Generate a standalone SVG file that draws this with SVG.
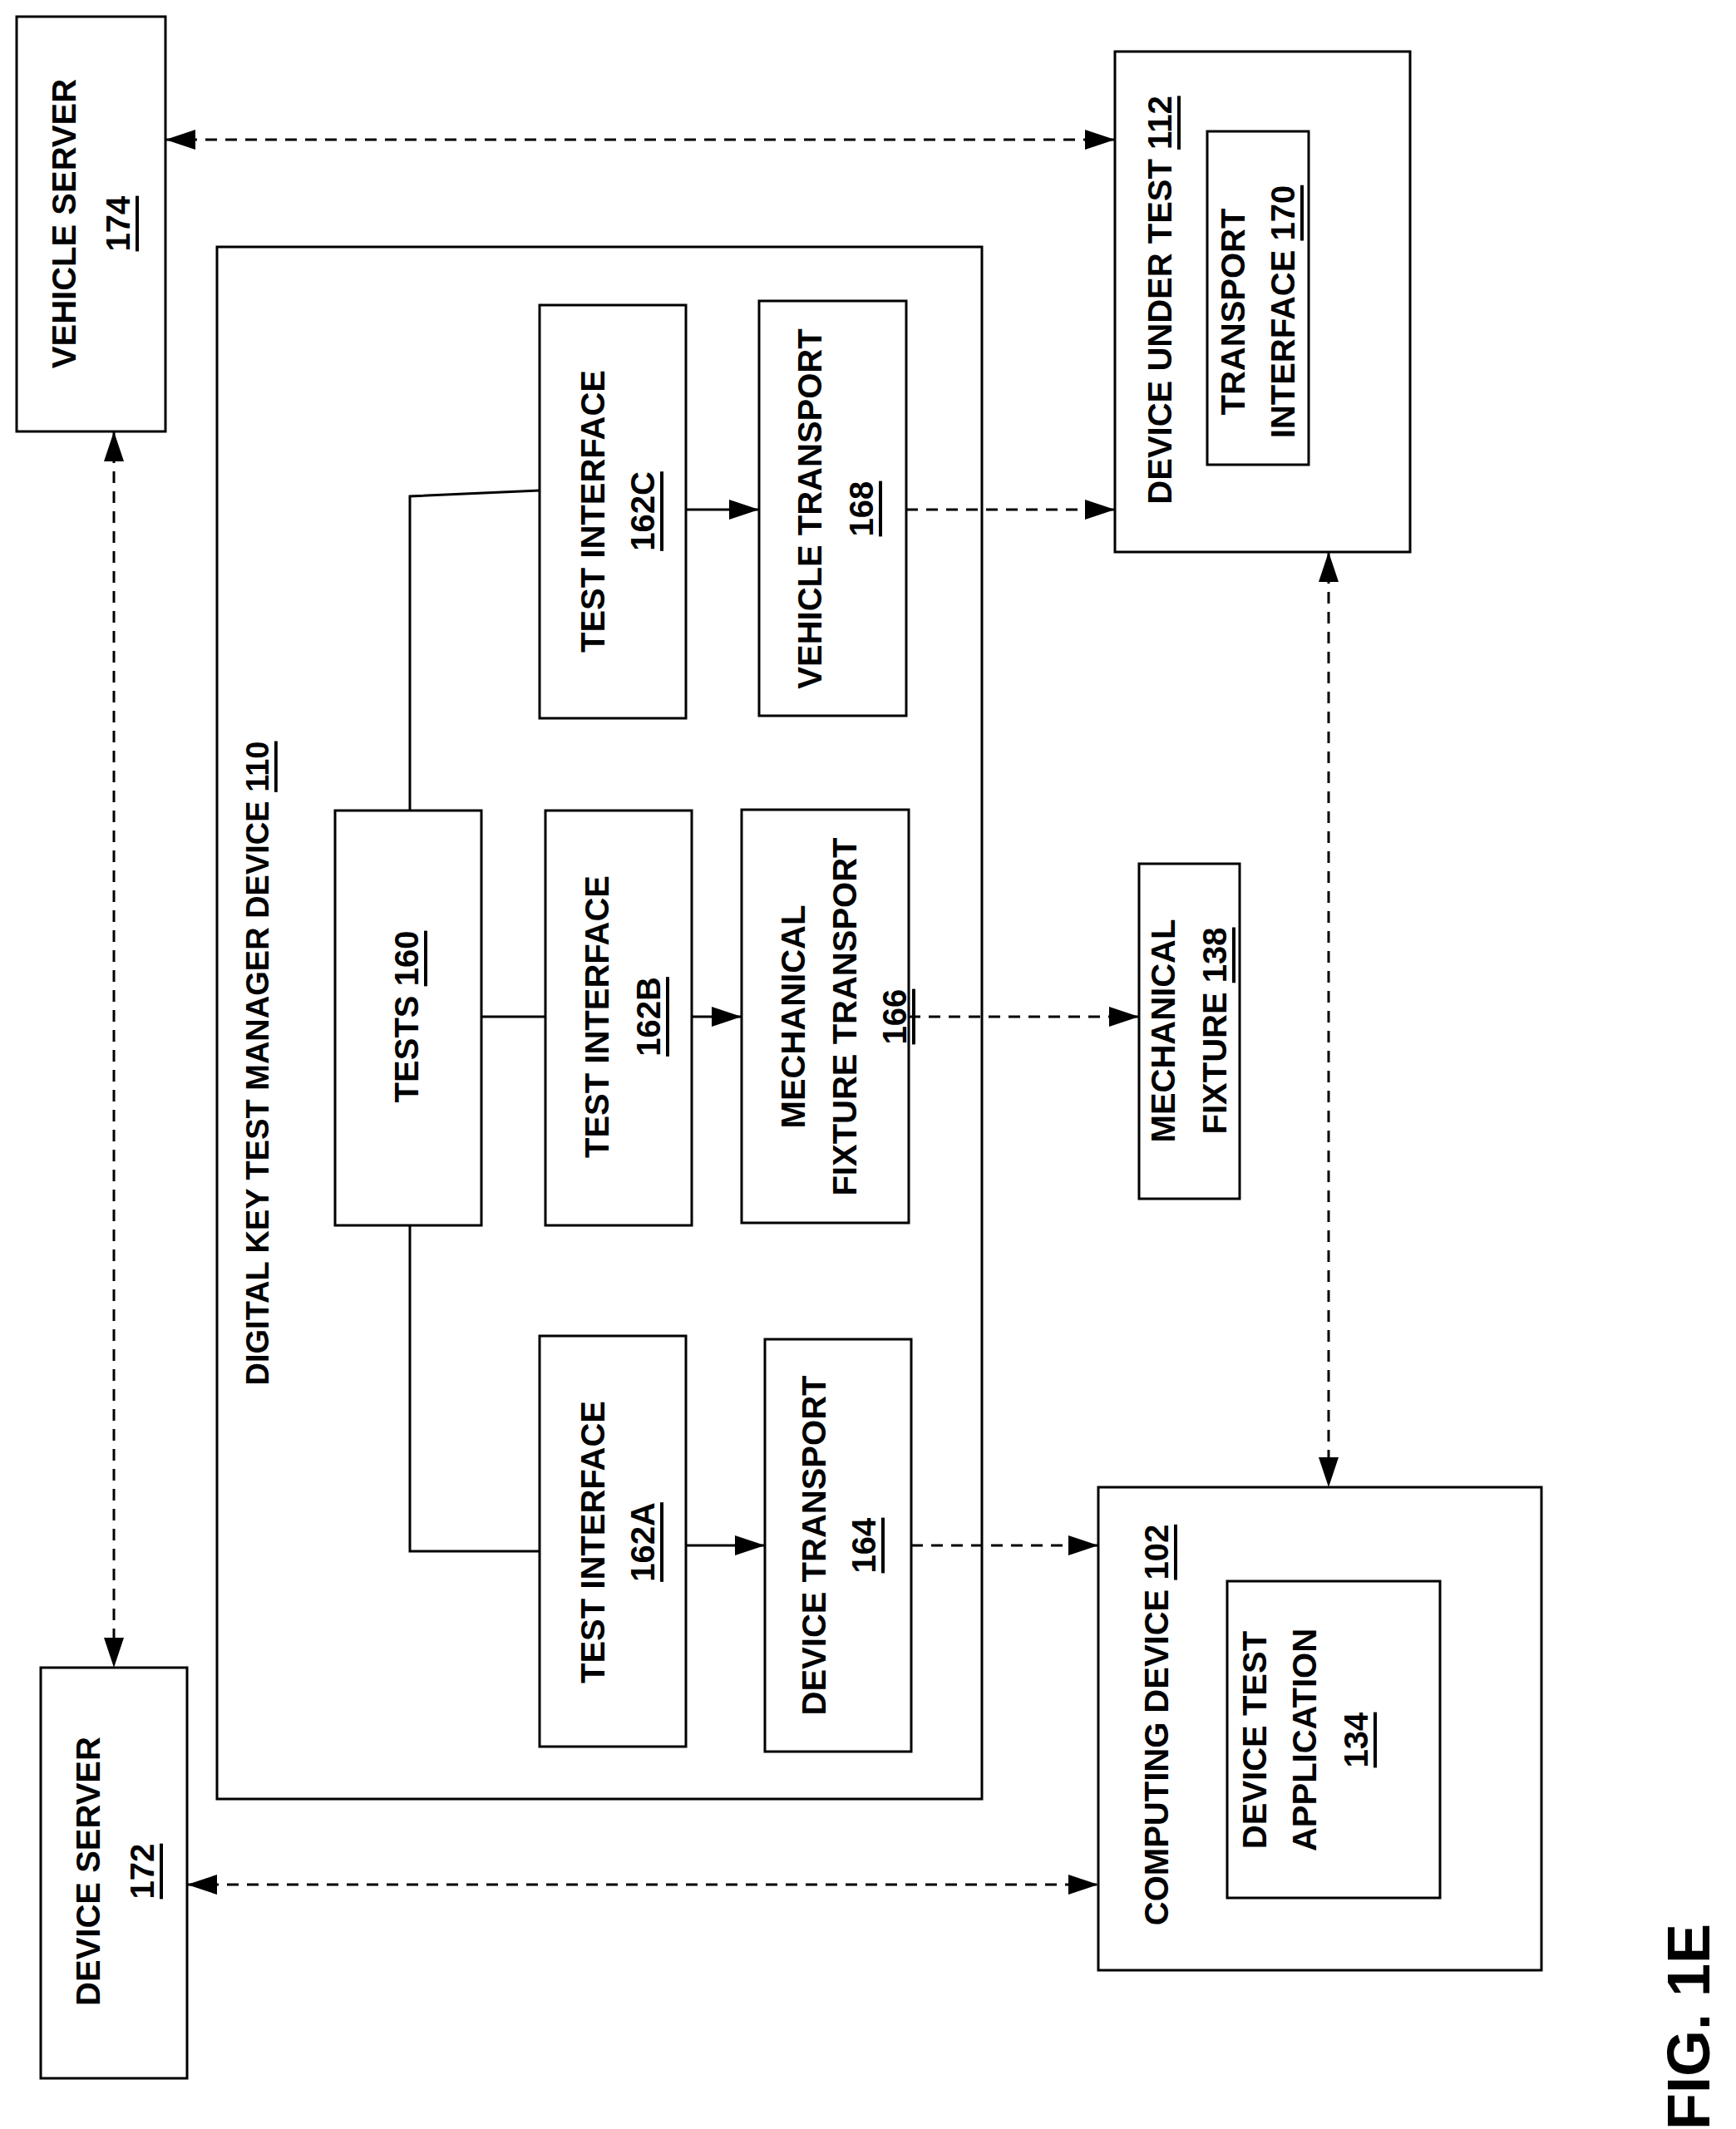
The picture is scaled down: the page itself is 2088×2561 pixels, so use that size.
<svg xmlns="http://www.w3.org/2000/svg" width="2088" height="2561" viewBox="0 0 2088 2561">
<style>
rect{fill:none;stroke:#000;stroke-width:3}
text{font-family:"Liberation Sans",Arial,sans-serif;font-weight:bold;font-size:40px;text-anchor:middle;dominant-baseline:central}
.u{text-decoration:underline}
.c line,.c path{stroke:#000;stroke-width:3;fill:none}
.d{stroke-dasharray:14 10}
</style>
<defs>
<marker id="b" viewBox="0 0 10 10" refX="10" refY="5" markerWidth="36" markerHeight="24" markerUnits="userSpaceOnUse" orient="auto-start-reverse" preserveAspectRatio="none"><path d="M0,0 L10,5 L0,10 z" fill="#000"/></marker>
</defs>
<rect width="2088" height="2561" style="fill:#fff;stroke:none"/>
<g id="vehicle-server"><rect x="20" y="20" width="179" height="499"/>
<text transform="rotate(-90 77 269)" x="77" y="269">VEHICLE  SERVER</text>
<text transform="rotate(-90 142 269)" x="142" y="269" class="u">174</text></g>
<g id="device-under-test"><rect x="1341" y="62" width="355" height="602"/>
<text transform="rotate(-90 1395 361)" x="1395" y="361">DEVICE UNDER TEST <tspan class="u">112</tspan></text>
<rect x="1452" y="158" width="122" height="401"/>
<text transform="rotate(-90 1483 375)" x="1483" y="375">TRANSPORT</text>
<text transform="rotate(-90 1543 375)" x="1543" y="375">INTERFACE <tspan class="u">170</tspan></text></g>
<g id="dktm"><rect x="261" y="297" width="920" height="1867"/>
<text transform="rotate(-90 310 1279)" x="310" y="1279" style="font-size:38px">DIGITAL KEY TEST MANAGER DEVICE <tspan class="u">110</tspan></text></g>
<g id="ti162c"><rect x="649" y="367" width="176" height="497"/>
<text transform="rotate(-90 713 615)" x="713" y="615">TEST INTERFACE</text>
<text transform="rotate(-90 773 615)" x="773" y="615" class="u">162C</text></g>
<g id="vt168"><rect x="913" y="362" width="177" height="499"/>
<text transform="rotate(-90 974 612)" x="974" y="612">VEHICLE TRANSPORT</text>
<text transform="rotate(-90 1036 612)" x="1036" y="612" class="u">168</text></g>
<g id="tests160"><rect x="403" y="975" width="176" height="499"/>
<text transform="rotate(-90 489 1223)" x="489" y="1223">TESTS <tspan class="u">160</tspan></text></g>
<g id="ti162b"><rect x="656" y="975" width="176" height="499"/>
<text transform="rotate(-90 718 1223)" x="718" y="1223">TEST INTERFACE</text>
<text transform="rotate(-90 780 1223)" x="780" y="1223" class="u">162B</text></g>
<g id="mft166"><rect x="892" y="974" width="201" height="497"/>
<text transform="rotate(-90 954 1223)" x="954" y="1223">MECHANICAL</text>
<text transform="rotate(-90 1016 1223)" x="1016" y="1223">FIXTURE TRANSPORT</text>
<text transform="rotate(-90 1076 1223)" x="1076" y="1223" class="u">166</text></g>
<g id="mf138"><rect x="1370" y="1039" width="121" height="403"/>
<text transform="rotate(-90 1399 1240)" x="1399" y="1240">MECHANICAL</text>
<text transform="rotate(-90 1461 1240)" x="1461" y="1240">FIXTURE <tspan class="u">138</tspan></text></g>
<g id="ti162a"><rect x="649" y="1607" width="176" height="494"/>
<text transform="rotate(-90 713 1855)" x="713" y="1855">TEST INTERFACE</text>
<text transform="rotate(-90 773 1855)" x="773" y="1855" class="u">162A</text></g>
<g id="dt164"><rect x="920" y="1611" width="176" height="496"/>
<text transform="rotate(-90 979 1859)" x="979" y="1859">DEVICE TRANSPORT</text>
<text transform="rotate(-90 1039 1859)" x="1039" y="1859" class="u">164</text></g>
<g id="device-server"><rect x="49" y="2006" width="176" height="494"/>
<text transform="rotate(-90 106 2251)" x="106" y="2251">DEVICE SERVER</text>
<text transform="rotate(-90 171 2251)" x="171" y="2251" class="u">172</text></g>
<g id="computing-device"><rect x="1321" y="1789" width="533" height="581"/>
<text transform="rotate(-90 1391 2075)" x="1391" y="2075">COMPUTING DEVICE <tspan class="u">102</tspan></text>
<rect x="1476" y="1902" width="256" height="381"/>
<text transform="rotate(-90 1509 2093)" x="1509" y="2093">DEVICE TEST</text>
<text transform="rotate(-90 1569 2093)" x="1569" y="2093">APPLICATION</text>
<text transform="rotate(-90 1631 2093)" x="1631" y="2093" class="u">134</text></g>
<text transform="rotate(-90 2031 2438)" x="2031" y="2438" style="font-size:72px">FIG. 1E</text>
<g class="c">
<line class="d" x1="199" y1="168" x2="1341" y2="168" marker-start="url(#b)" marker-end="url(#b)"/>
<line class="d" x1="137" y1="519" x2="137" y2="2006" marker-start="url(#b)" marker-end="url(#b)"/>
<line class="d" x1="225" y1="2267" x2="1321" y2="2267" marker-start="url(#b)" marker-end="url(#b)"/>
<line class="d" x1="1598" y1="664" x2="1598" y2="1789" marker-start="url(#b)" marker-end="url(#b)"/>
<line x1="825" y1="613" x2="913" y2="613" marker-end="url(#b)"/>
<line class="d" x1="1090" y1="613" x2="1341" y2="613" marker-end="url(#b)"/>
<line x1="832" y1="1223" x2="892" y2="1223" marker-end="url(#b)"/>
<line class="d" x1="1093" y1="1223" x2="1370" y2="1223" marker-end="url(#b)"/>
<line x1="825" y1="1859" x2="920" y2="1859" marker-end="url(#b)"/>
<line class="d" x1="1096" y1="1859" x2="1321" y2="1859" marker-end="url(#b)"/>
<path d="M493,975 V597 L649,590"/>
<path d="M493,1474 V1866 H649"/>
<line x1="579" y1="1223" x2="656" y2="1223"/>
</g>
</svg>
